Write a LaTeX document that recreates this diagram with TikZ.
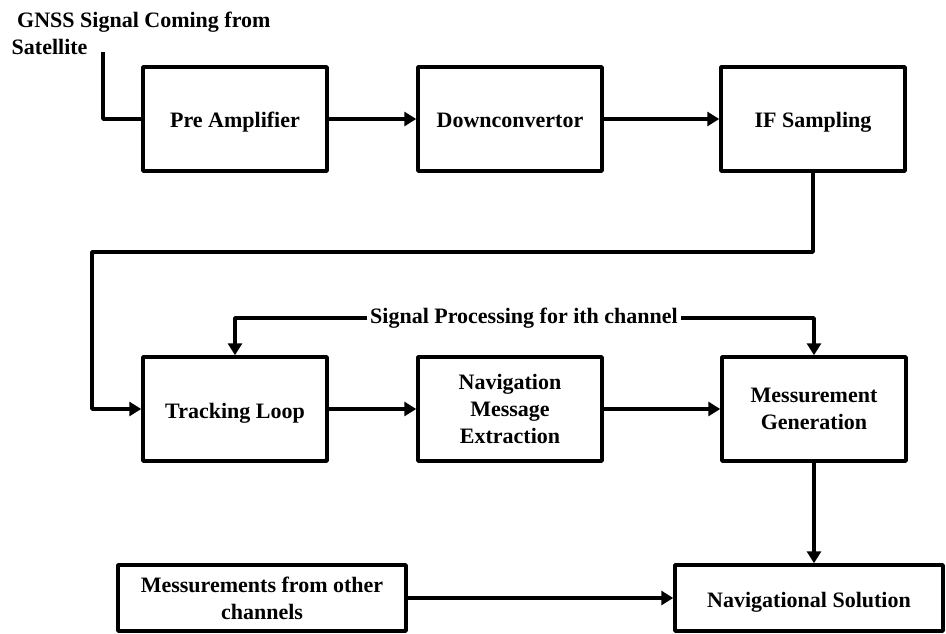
\documentclass[tikz,border=0pt]{standalone}
\usepackage{fontspec}
\setmainfont{Liberation Serif}
\usetikzlibrary{arrows.meta}
\begin{document}
\begin{tikzpicture}[x=1pt, y=-1pt, line width=3.5pt, line join=round,
    font=\fontsize{22}{27}\selectfont\bfseries, >={Triangle[length=12pt,width=14pt]},
    blk/.style={draw, minimum width=184pt, minimum height=104pt, align=center, inner sep=2pt},
    oneline/.style={text height=20pt, text depth=2pt},
    wideblk/.style={draw, minimum height=66pt, align=center, inner sep=2pt}]
	\useasboundingbox (0,0) rectangle (946,634);
	% first row
	\node[anchor=north west, align=left, inner sep=0pt] (title) at (10,10) {\ GNSS Signal Coming from\\Satellite};
	\node[blk, oneline] (pre) at (235,119) {Pre Amplifier};
	\node[blk, oneline] (down) at (510,119) {Downconvertor};
	\node[blk, oneline] (ifs) at (813,119) {IF Sampling};
	% second row
	\node[blk, oneline] (track) at (235,409) {Tracking Loop};
	\node[blk, text width=170pt] (nav) at (510,409) {Navigation\\Message\\Extraction};
	\node[blk, text width=170pt] (meas) at (814,409) {Messurement\\Generation};
	\node[inner sep=1pt] (sig) at (524,318) {Signal Processing for ith channel};
	% last row
	\node[wideblk, minimum width=288pt] (other) at (262,598) {Messurements from other\\channels};
	\node[wideblk, oneline, minimum width=268pt] (sol) at (809,598) {Navigational Solution};
	\coordinate (src) at (103,52);
	\coordinate (turn) at (92,252);
	% connectors
	\draw (src) |- (pre.west);
	\draw[->] (pre) -- (down);
	\draw[->] (down) -- (ifs);
	\draw[->] (ifs.south) |- (turn) |- (track.west);
	\draw[->] (sig.west) -| (track.north);
	\draw[->] (sig.east) -| (meas.north);
	\draw[->] (track) -- (nav);
	\draw[->] (nav) -- (meas);
	\draw[->] (meas.south) -- (meas.south |- sol.north);
	\draw[->] (other) -- (sol);
\end{tikzpicture}
\end{document}
